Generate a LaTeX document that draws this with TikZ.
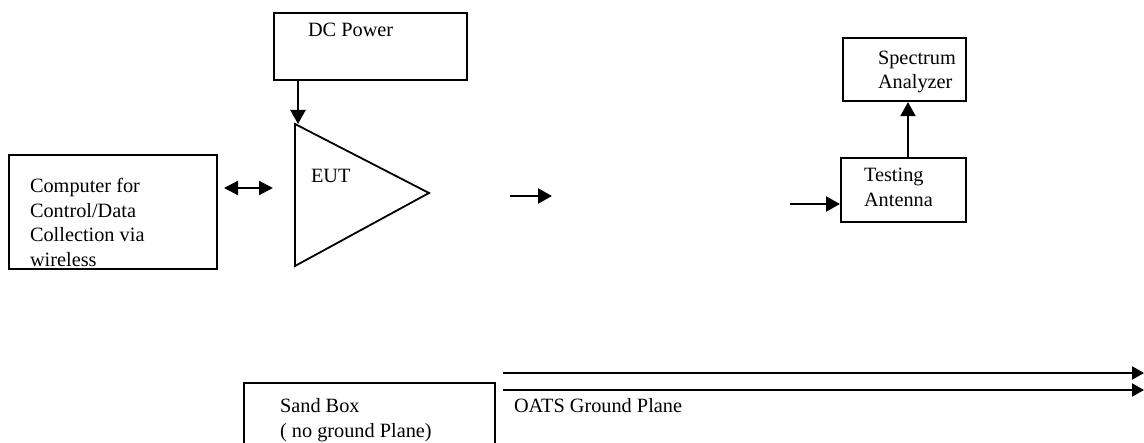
\documentclass[tikz,border=0pt]{standalone}
\usepackage{fontspec}
\setmainfont{Liberation Serif}
\usetikzlibrary{arrows.meta}
\begin{document}
\begin{tikzpicture}[x=1pt,y=-1pt,
  line width=2.1pt,
  boxshape/.style={draw, line width=2.1pt, rectangle, inner sep=0pt, anchor=north west},
  txt/.style={inner sep=0pt, anchor=base west, align=left, font=\fontsize{20.3}{24.5}\selectfont},
  arr/.style={-{Triangle[length=14pt,width=15pt]}},
  darr/.style={{Triangle[length=14pt,width=14pt]}-{Triangle[length=14pt,width=14pt]}},
  garr/.style={-{Triangle[length=12pt,width=13pt]}}]
\useasboundingbox (0,0) rectangle (1144,443);
% DC Power
\node[boxshape, minimum width=193pt, minimum height=67pt] (dc) at (273,12) {};
\node[txt] (dct) at (307,37) {DC Power};
% EUT triangle
\coordinate (eutTop) at (295,124);
\coordinate (eutBot) at (295,266);
\coordinate (eutTip) at (429,193);
\draw[line width=1.8pt, line join=miter] (eutTop) -- (eutTip) -- (eutBot) -- cycle;
\node[txt] (eut) at (310,183) {EUT};
\coordinate (dcin) at (298,124);
\draw[arr] (dc.south -| dcin) -- (dcin);
% Computer
\node[boxshape, draw=none, minimum width=206pt, minimum height=112pt] (pc) at (9,155) {};
\begin{scope}
\clip (pc.north west) rectangle (pc.south east);
\node[txt] (pct) at (29,266.5) {Computer for\\Control/Data\\Collection via\\wireless};
\end{scope}
\draw[line width=2.1pt] (pc.north west) rectangle (pc.south east);
% double arrow
\coordinate (da1) at (224,188);
\coordinate (da2) at (273,188);
\draw[darr] (da1) -- (da2);
% EUT output arrow
\coordinate (oa1) at (510,196);
\coordinate (oa2) at (552,196);
\draw[arr] (oa1) -- (oa2);
% Testing Antenna
\node[boxshape, minimum width=125pt, minimum height=64pt] (ant) at (840,157) {};
\node[txt] (antt) at (863,206.5) {Testing\\Antenna};
\coordinate (ia1) at (790,204);
\draw[arr] (ia1) -- (ia1 -| ant.west);
% Spectrum Analyzer
\node[boxshape, minimum width=123pt, minimum height=63pt] (sa) at (842,37) {};
\node[txt] (sat) at (877,89) {Spectrum\\Analyzer};
\coordinate (up) at (908,157);
\draw[arr] (up) -- (up |- sa.south);
% Sand Box
\node[boxshape, minimum width=251pt, minimum height=90pt] (sand) at (243,382) {};
\node[txt] (sandt) at (279,437.5) {Sand Box\\( no ground Plane)};
% OATS ground plane
\coordinate (g1a) at (503,373);
\coordinate (g1b) at (1144,373);
\coordinate (g2a) at (503,390);
\coordinate (g2b) at (1144,390);
\draw[garr] (g1a) -- (g1b);
\draw[garr] (g2a) -- (g2b);
\node[txt] (oats) at (513,413) {OATS Ground Plane};
\end{tikzpicture}
\end{document}
